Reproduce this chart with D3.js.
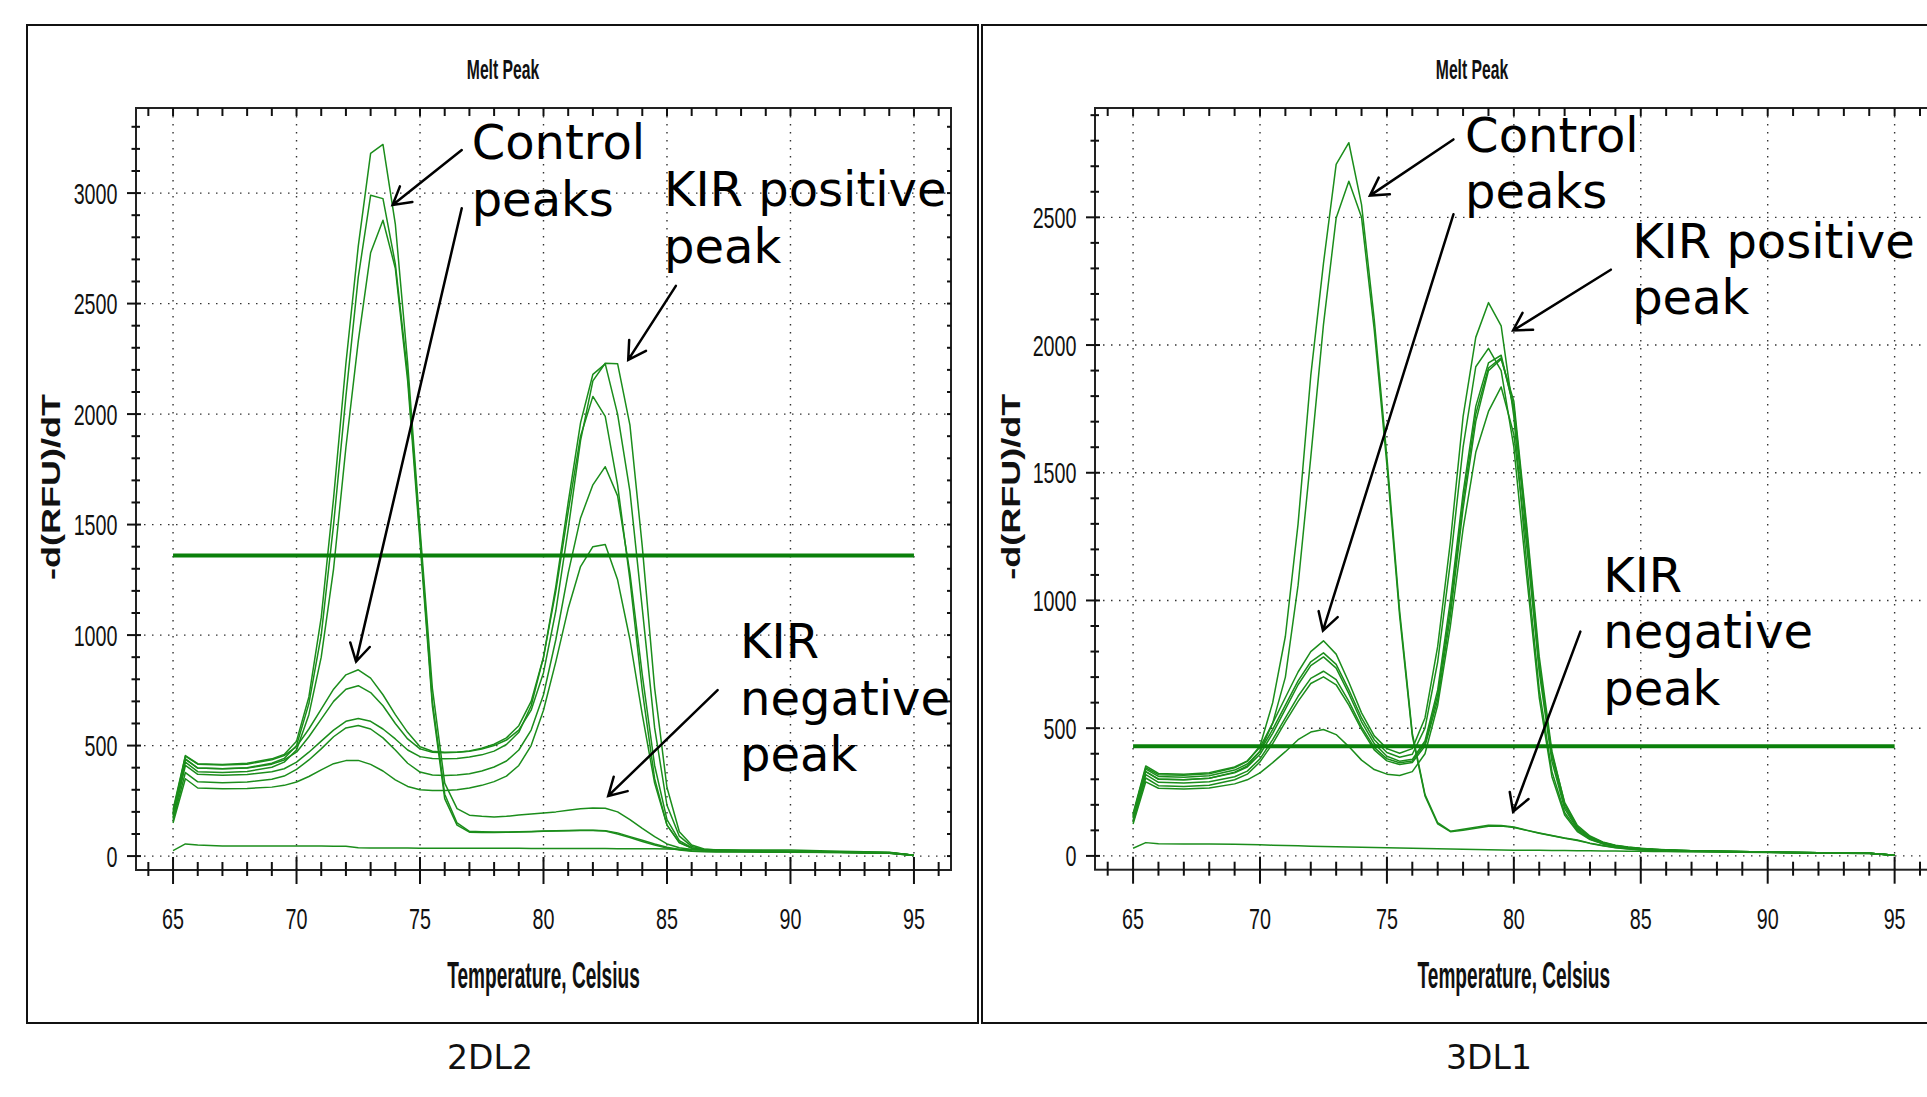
<!DOCTYPE html>
<html>
<head>
<meta charset="utf-8">
<script src="https://cdn.jsdelivr.net/npm/d3@7"></script>
<style>
  body { margin: 0; background: #fff; }
  svg { display: block; }
</style>
</head>
<body>
<svg id="chart" width="1927" height="1097"></svg>
<script>
// melt temperatures shared by every curve (Celsius)
const temps = [65, 65.5, 66, 67, 68, 69, 69.5,
  70, 70.5, 71, 71.5, 72, 72.5, 73, 73.5, 74, 74.5,
  75, 75.5, 76, 76.5, 77, 77.5, 78, 78.5, 79, 79.5,
  80, 80.5, 81, 81.5, 82, 82.5, 83, 83.5, 84, 84.5,
  85, 85.5, 86, 86.5, 87,
  88, 90, 92, 94, 95];

const xTickLabels = [65, 70, 75, 80, 85, 90, 95];
const yTicks2DL2 = [0, 500, 1000, 1500, 2000, 2500, 3000];
const yTicks3DL1 = [0, 500, 1000, 1500, 2000, 2500];

// ---- 2DL2 : -d(RFU)/dT ----
const neg1_2DL2 = [210, 455, 418, 414, 420, 440, 460,
  520, 720, 1080, 1620, 2230, 2760, 3180, 3220, 2860, 2230,
  1480, 760, 330, 215, 185, 180, 177, 180, 186, 190,
  195, 200, 207, 214, 217, 216, 200, 165, 125, 88,
  55, 38, 30, 26, 24,
  23, 21, 18, 15, 4];
const neg2_2DL2 = [190, 440, 398, 395, 400, 420, 442,
  500, 690, 1000, 1500, 2080, 2620, 2990, 2975, 2680, 2180,
  1450, 700, 280, 150, 112, 110, 109, 109, 110, 111,
  113, 115, 116, 117, 117, 115, 105, 88, 72, 55,
  40, 30, 24, 22, 21,
  20, 19, 17, 14, 4];
const neg3_2DL2 = [175, 425, 382, 378, 383, 402, 425,
  480, 640, 900, 1300, 1850, 2330, 2730, 2877, 2660, 2150,
  1420, 680, 260, 140, 108, 107, 107, 108, 109, 110,
  112, 114, 115, 116, 116, 113, 100, 84, 66, 50,
  36, 27, 22, 20, 19,
  18, 17, 16, 13, 3];
const pos1_2DL2 = [200, 452, 416, 412, 416, 436, 455,
  495, 575, 665, 755, 820, 843, 805, 730, 640, 560,
  495, 474, 470, 470, 474, 484, 500, 525, 570, 660,
  830, 1110, 1480, 1880, 2150, 2230, 2228, 1950, 1400, 760,
  310, 110, 50, 32, 28,
  25, 22, 19, 16, 4];
const pos2_2DL2 = [185, 438, 398, 395, 398, 416, 435,
  470, 540, 620, 700, 755, 771, 740, 680, 600, 530,
  485, 470, 468, 470, 476, 488, 506, 535, 590, 700,
  900, 1220, 1600, 1960, 2180, 2227, 2000, 1650, 1120, 580,
  230, 90, 44, 30, 26,
  24, 21, 18, 15, 4];
const pos3_2DL2 = [170, 410, 370, 366, 369, 382, 395,
  425, 470, 520, 570, 610, 623, 610, 575, 530, 480,
  450, 442, 440, 442, 448, 458, 475, 505, 560, 680,
  900, 1200, 1560, 1900, 2080, 1990, 1680, 1250, 750, 350,
  140, 60, 36, 28, 25,
  23, 20, 17, 14, 4];
const pos4_2DL2 = [160, 378, 336, 332, 335, 348, 362,
  392, 435, 485, 540, 580, 591, 575, 535, 480, 420,
  380, 367, 365, 367, 373, 385, 403, 430, 480, 570,
  730, 980, 1280, 1530, 1680, 1762, 1630, 1280, 820, 410,
  165, 70, 38, 28, 25,
  23, 20, 17, 14, 4];
const pos5_2DL2 = [150, 350, 308, 305, 306, 312, 320,
  335, 360, 390, 418, 432, 433, 415, 385, 345, 315,
  300, 297, 297, 300, 308, 320, 337, 362, 410, 500,
  660, 880, 1120, 1310, 1400, 1410, 1250, 980, 640, 330,
  140, 62, 36, 27, 24,
  22, 19, 16, 13, 3];
const ntc_2DL2 = [25, 55, 50, 46, 46, 46, 46,
  46, 46, 46, 45, 44, 38, 37, 36, 36, 36,
  35, 35, 35, 35, 35, 35, 35, 35, 35, 34,
  34, 34, 34, 34, 34, 34, 33, 33, 33, 33,
  32, 31, 30, 30, 29,
  28, 27, 22, 17, 4];
const threshold2DL2 = 1360;

// ---- 3DL1 : -d(RFU)/dT ----
const neg1_3DL1 = [160, 345, 318, 316, 322, 345, 370,
  430, 600, 860, 1300, 1880, 2320, 2707, 2792, 2550, 2100,
  1560, 960, 480, 240, 130, 97, 104, 112, 120, 119,
  113, 101, 90, 80, 70, 62, 50, 41, 33, 28,
  24, 22, 20, 19, 18,
  17, 15, 12, 10, 3];
const neg2_3DL1 = [150, 330, 300, 298, 304, 328, 352,
  410, 520, 700, 1060, 1560, 2080, 2497, 2641, 2500, 2060,
  1530, 940, 470, 235, 125, 95, 100, 108, 116, 117,
  111, 100, 89, 79, 69, 60, 49, 40, 32, 27,
  23, 21, 19, 18, 17,
  16, 14, 11, 9, 3];
const pos1_3DL1 = [165, 352, 323, 320, 326, 348, 372,
  425, 520, 620, 720, 800, 842, 790, 680, 560, 470,
  420, 402, 420, 540, 820, 1230, 1720, 2030, 2166, 2075,
  1720, 1150, 650, 330, 170, 100, 66, 48, 38, 32,
  28, 25, 23, 21, 20,
  18, 15, 12, 10, 3];
const pos2_3DL1 = [155, 340, 311, 308, 314, 336, 360,
  410, 495, 590, 685, 760, 795, 750, 650, 540, 455,
  405, 386, 398, 500, 760, 1150, 1600, 1915, 1987, 1900,
  1600, 1100, 620, 310, 160, 95, 64, 47, 37, 31,
  27, 24, 22, 20, 19,
  17, 14, 12, 10, 3];
const pos3_3DL1 = [150, 330, 301, 298, 304, 325, 348,
  398, 480, 575, 670, 745, 779, 735, 635, 525, 440,
  390, 371, 378, 450, 650, 1000, 1420, 1760, 1930, 1960,
  1750, 1250, 720, 370, 185, 105, 70, 50, 38, 32,
  28, 25, 23, 21, 20,
  18, 15, 12, 10, 3];
const pos4_3DL1 = [140, 318, 288, 285, 290, 310, 332,
  380, 455, 540, 625, 695, 723, 690, 605, 505, 425,
  380, 365, 372, 440, 630, 970, 1390, 1730, 1910, 1950,
  1760, 1280, 750, 390, 195, 110, 72, 52, 40, 33,
  28, 25, 23, 21, 20,
  18, 15, 12, 10, 3];
const pos5_3DL1 = [132, 305, 275, 272, 277, 298, 320,
  368, 440, 525, 605, 675, 701, 670, 590, 495, 415,
  372, 358, 366, 430, 610, 940, 1360, 1700, 1900, 1945,
  1780, 1300, 780, 410, 205, 115, 75, 53, 41, 34,
  29, 26, 23, 21, 20,
  18, 15, 12, 10, 3];
const pos6_3DL1 = [125, 290, 265, 262, 266, 282, 298,
  325, 365, 408, 455, 485, 495, 475, 428, 375, 338,
  320, 315, 330, 400, 590, 900, 1280, 1580, 1740, 1836,
  1650, 1220, 740, 400, 210, 120, 78, 55, 42, 35,
  30, 26, 24, 22, 20,
  18, 15, 12, 10, 3];
const ntc_3DL1 = [30, 52, 48, 47, 47, 46, 45,
  44, 42, 41, 40, 38, 37, 36, 35, 34, 33,
  32, 31, 30, 29, 28, 27, 26, 25, 24, 23,
  22, 22, 22, 21, 21, 20, 20, 19, 19, 18,
  18, 17, 17, 16, 16,
  15, 13, 11, 9, 3];
const threshold3DL1 = 429;

// annotations, anchored in data units (temperature, value)
const notes2DL2 = [
  { lines: ["Control", "peaks"], t: 77.09, v: 3153 },
  { lines: ["KIR positive", "peak"], t: 84.88, v: 2940 },
  { lines: ["KIR", "negative", "peak"], t: 87.96, v: 895 }
];
const arrows2DL2 = [
  { from: [76.69, 3195], to: [73.89, 2946] },
  { from: [76.69, 2931], to: [72.41, 880] },
  { from: [85.36, 2580], to: [83.43, 2245] },
  { from: [87.05, 751], to: [82.62, 272] }
];
const notes3DL1 = [
  { lines: ["Control", "peaks"], t: 78.08, v: 2757 },
  { lines: ["KIR positive", "peak"], t: 84.66, v: 2341 },
  { lines: ["KIR", "negative", "peak"], t: 83.52, v: 1034 }
];
const arrows3DL1 = [
  { from: [77.62, 2805], to: [74.33, 2585] },
  { from: [77.62, 2512], to: [72.48, 882] },
  { from: [83.82, 2295], to: [79.97, 2057] },
  { from: [82.62, 878], to: [79.97, 173] }
];

const panels = [
  {
    caption: "2DL2", captionX: 490, titleX: 503, ylabelX: 60,
    box: [27, 25, 978, 1023],
    plot: { left: 136, top: 108, right: 951, bottom: 870 },
    yDomain: [-63, 3385], yTicks: yTicks2DL2, threshold: threshold2DL2,
    curves: [ntc_2DL2, pos5_2DL2, pos4_2DL2, pos3_2DL2, pos2_2DL2, pos1_2DL2, neg3_2DL2, neg2_2DL2, neg1_2DL2],
    notes: notes2DL2, arrows: arrows2DL2
  },
  {
    caption: "3DL1", captionX: 1489, titleX: 1472, ylabelX: 1020,
    box: [982, 25, 1937, 1023],
    plot: { left: 1095, top: 108, right: 1932.7, bottom: 869.7 },
    yDomain: [-54, 2928], yTicks: yTicks3DL1, threshold: threshold3DL1,
    curves: [ntc_3DL1, pos6_3DL1, pos5_3DL1, pos4_3DL1, pos3_3DL1, pos2_3DL1, pos1_3DL1, neg2_3DL1, neg1_3DL1],
    notes: notes3DL1, arrows: arrows3DL1
  }
];

const svg = d3.select("#chart");
const narrowFont = "'Liberation Sans', Arial, sans-serif";
const noteFont = "Verdana, 'DejaVu Sans', sans-serif";

// condensed text (the instrument software squeezes its labels)
function squish(sel, x, y, str, size, weight, sx, anchor) {
  sel.append("text")
    .attr("transform", `translate(${x},${y}) scale(${sx},1)`)
    .attr("text-anchor", anchor)
    .attr("font-family", narrowFont)
    .attr("font-size", size)
    .attr("font-weight", weight)
    .attr("fill", "#111")
    .text(str);
}

function arrow(g, x0, y0, x1, y1) {
  const ang = Math.atan2(y0 - y1, x0 - x1);
  const len = 20, spread = Math.PI / 6;
  const a1 = [x1 + len * Math.cos(ang + spread), y1 + len * Math.sin(ang + spread)];
  const a2 = [x1 + len * Math.cos(ang - spread), y1 + len * Math.sin(ang - spread)];
  g.append("path")
    .attr("d", `M${x0},${y0}L${x1},${y1}M${a1[0]},${a1[1]}L${x1},${y1}L${a2[0]},${a2[1]}`)
    .attr("fill", "none")
    .attr("stroke", "#000")
    .attr("stroke-width", 2.5)
    .attr("stroke-linecap", "round");
}

function drawPanel(p) {
  const g = svg.append("g");
  const pl = p.plot;

  const x = d3.scaleLinear().domain([63.5, 96.5]).range([pl.left, pl.right]);
  const y = d3.scaleLinear().domain(p.yDomain).range([pl.bottom, pl.top]);

  g.append("rect")
    .attr("x", p.box[0]).attr("y", p.box[1])
    .attr("width", p.box[2] - p.box[0]).attr("height", p.box[3] - p.box[1])
    .attr("fill", "none").attr("stroke", "#111").attr("stroke-width", 2);

  // dotted grid
  g.append("g").selectAll("line").data(xTickLabels).join("line")
    .attr("x1", d => x(d)).attr("x2", d => x(d))
    .attr("y1", pl.top).attr("y2", pl.bottom)
    .attr("stroke", "#333").attr("stroke-width", 1.4).attr("stroke-dasharray", "1.5 6.5");
  g.append("g").selectAll("line").data(p.yTicks).join("line")
    .attr("x1", pl.left).attr("x2", pl.right)
    .attr("y1", d => y(d)).attr("y2", d => y(d))
    .attr("stroke", "#333").attr("stroke-width", 1.4).attr("stroke-dasharray", "1.5 6.5");

  // melt curves
  const line = d3.line()
    .x((d, i) => x(temps[i]))
    .y(d => y(d));
  g.append("g").selectAll("path").data(p.curves).join("path")
    .attr("d", line)
    .attr("fill", "none")
    .attr("stroke", "#1b8d1b")
    .attr("stroke-width", 1.5)
    .attr("stroke-linejoin", "round");

  // threshold
  g.append("line")
    .attr("x1", x(65)).attr("x2", x(95))
    .attr("y1", y(p.threshold)).attr("y2", y(p.threshold))
    .attr("stroke", "#0b800b").attr("stroke-width", 4);

  // frame
  g.append("rect")
    .attr("x", pl.left).attr("y", pl.top)
    .attr("width", pl.right - pl.left).attr("height", pl.bottom - pl.top)
    .attr("fill", "none").attr("stroke", "#222").attr("stroke-width", 2);

  const ticks = g.append("g").attr("stroke", "#111").attr("stroke-width", 2);
  const xMinor = d3.range(64, 97, 1);
  const yMinor = d3.range(0, p.yDomain[1], 100);

  ticks.selectAll(".xb").data(xMinor).join("line").attr("class", "xb")
    .attr("x1", d => x(d)).attr("x2", d => x(d))
    .attr("y1", d => d % 5 === 0 ? pl.bottom - 13 : pl.bottom - 8)
    .attr("y2", d => d % 5 === 0 ? pl.bottom + 14 : pl.bottom + 6);
  ticks.selectAll(".xt").data(xMinor).join("line").attr("class", "xt")
    .attr("x1", d => x(d)).attr("x2", d => x(d))
    .attr("y1", pl.top).attr("y2", pl.top + 8);
  ticks.selectAll(".yl").data(yMinor).join("line").attr("class", "yl")
    .attr("y1", d => y(d)).attr("y2", d => y(d))
    .attr("x1", d => d % 500 === 0 ? pl.left - 9 : pl.left - 4.5)
    .attr("x2", d => d % 500 === 0 ? pl.left + 5 : pl.left + 4);
  ticks.selectAll(".yr").data(yMinor).join("line").attr("class", "yr")
    .attr("y1", d => y(d)).attr("y2", d => y(d))
    .attr("x1", pl.right - 4).attr("x2", pl.right);

  // tick labels
  xTickLabels.forEach(t => squish(g, x(t), 929, String(t), 29, "normal", 0.68, "middle"));
  p.yTicks.forEach(v => squish(g, pl.left - 18.5, y(v) + 10.5, String(v), 29, "normal", 0.68, "end"));

  // titles
  squish(g, p.titleX, 79, "Melt Peak", 28, "bold", 0.56, "middle");
  squish(g, (pl.left + Math.min(pl.right, 1932.7)) / 2, 988, "Temperature, Celsius", 36, "bold", 0.53, "middle");
  g.append("text")
    .attr("transform", `translate(${p.ylabelX},${(pl.top + pl.bottom) / 2 + 91}) rotate(-90)`)
    .attr("font-family", narrowFont)
    .attr("font-size", 26)
    .attr("font-weight", "bold")
    .attr("fill", "#111")
    .attr("textLength", 186)
    .attr("lengthAdjust", "spacingAndGlyphs")
    .text("-d(RFU)/dT");

  // annotations
  p.notes.forEach(n => {
    const t = g.append("text")
      .attr("font-family", noteFont)
      .attr("font-size", 48)
      .attr("fill", "#000");
    n.lines.forEach((s, i) => {
      t.append("tspan").attr("x", x(n.t)).attr("y", y(n.v) + i * 56.5).text(s);
    });
  });
  p.arrows.forEach(a => arrow(g, x(a.from[0]), y(a.from[1]), x(a.to[0]), y(a.to[1])));

  g.append("text")
    .attr("x", p.captionX).attr("y", 1068.6)
    .attr("text-anchor", "middle")
    .attr("font-family", noteFont)
    .attr("font-size", 33)
    .attr("fill", "#111")
    .text(p.caption);
}

panels.forEach(drawPanel);
</script>
</body>
</html>
